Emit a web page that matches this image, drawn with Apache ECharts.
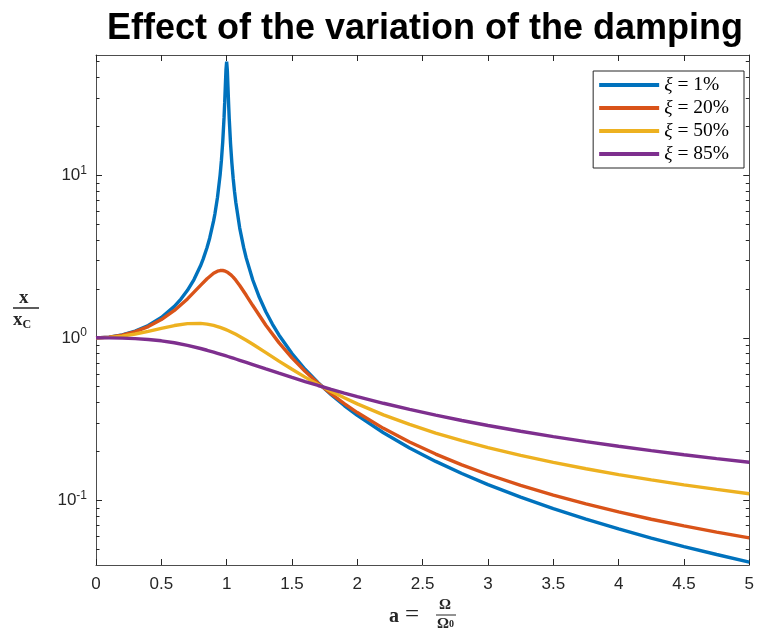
<!DOCTYPE html>
<html>
<head>
<meta charset="utf-8">
<script src="https://cdn.jsdelivr.net/npm/echarts@6.0.0/dist/echarts.min.js"></script>
<style>
  html, body { margin: 0; padding: 0; background: #fff; }
  #chart { width: 757px; height: 628px; }
</style>
</head>
<body>
<div id="chart"></div>
<script>
// frequency ratio a = Omega / Omega0
var aValues = [0, 0.1, 0.2, 0.3, 0.4, 0.5, 0.6, 0.7, 0.8, 0.85, 0.9, 0.93, 0.95, 0.97, 0.98, 0.99, 1,
  1.01, 1.02, 1.03, 1.05, 1.07, 1.1, 1.15, 1.2, 1.3, 1.4, 1.5, 1.6, 1.7, 1.8, 1.9, 2,
  2.2, 2.4, 2.6, 2.8, 3, 3.25, 3.5, 3.75, 4, 4.25, 4.5, 4.75, 5];
// the 1% curve is read at more points around the resonance
var aValues1 = [0, 0.1, 0.2, 0.3, 0.4, 0.5, 0.6, 0.65, 0.7, 0.75, 0.8, 0.82, 0.85, 0.87, 0.9, 0.91, 0.93, 0.95, 0.96, 0.97, 0.98, 0.985, 0.99, 0.995, 1,
  1.005, 1.01, 1.015, 1.02, 1.03, 1.04, 1.05, 1.06, 1.07, 1.1, 1.13, 1.15, 1.2, 1.25, 1.3, 1.35, 1.4, 1.5, 1.6, 1.7, 1.8, 1.9, 2,
  2.2, 2.4, 2.6, 2.8, 3, 3.25, 3.5, 3.75, 4, 4.25, 4.5, 4.75, 5];

// x / xC
var xi1 = [1, 1.0101, 1.0417, 1.0989, 1.1905, 1.3333, 1.5622, 1.7316, 1.9601, 2.2845, 2.7752, 3.0487, 3.5969, 4.103, 5.2399, 5.785, 7.3332, 10.068, 12.388, 16.078, 22.635, 28.006, 35.626, 44.91, 50.0,
  44.51, 35.095, 27.46, 22.098, 15.556, 11.874, 9.558, 7.974, 6.828, 4.736, 3.5994, 3.093, 2.2696, 1.776, 1.4483, 1.2158, 1.0412, 0.7999, 0.6409, 0.529, 0.4464, 0.3831, 0.3333,
  0.2604, 0.2101, 0.1736, 0.1462, 0.125, 0.1046, 0.0889, 0.0766, 0.0667, 0.0586, 0.0519, 0.0464, 0.0417];
var xi20 = [1, 1.0095, 1.0389, 1.0914, 1.1732, 1.2947, 1.4735, 1.7356, 2.1026, 2.3113, 2.4961, 2.57, 2.5946, 2.5954, 2.5864, 2.571, 2.5495,
  2.5221, 2.4893, 2.4515, 2.3635, 2.2632, 2.1002, 1.8265, 1.5794, 1.1959, 0.9344, 0.753, 0.6227, 0.5258, 0.4517, 0.3935, 0.3469,
  0.2773, 0.2284, 0.1926, 0.1654, 0.1442, 0.1236, 0.1077, 0.0951, 0.0849, 0.0765, 0.0696, 0.0637, 0.0587];
var xi50 = [1, 1.0063, 1.0249, 1.0553, 1.0961, 1.1435, 1.1901, 1.2233, 1.2277, 1.2152, 1.1922, 1.1735, 1.1593, 1.1437, 1.1354, 1.1269, 1.118,
  1.109, 1.0997, 1.0902, 1.0706, 1.0503, 1.0191, 0.9658, 0.9124, 0.8104, 0.7191, 0.6402, 0.5731, 0.5163, 0.4682, 0.4273, 0.3922,
  0.3359, 0.293, 0.2595, 0.2328, 0.211, 0.1889, 0.1711, 0.1564, 0.144, 0.1336, 0.1246, 0.1167, 0.1098];
var xi85 = [1, 0.9991, 0.996, 0.9893, 0.9773, 0.9585, 0.9322, 0.8988, 0.8596, 0.8384, 0.8166, 0.8033, 0.7944, 0.7855, 0.781, 0.7765, 0.772,
  0.7675, 0.7631, 0.7586, 0.7497, 0.7408, 0.7275, 0.7058, 0.6845, 0.6437, 0.6057, 0.5706, 0.5384, 0.5089, 0.482, 0.4574, 0.435,
  0.3956, 0.3624, 0.3341, 0.3098, 0.2887, 0.266, 0.2466, 0.2298, 0.2152, 0.2023, 0.1909, 0.1807, 0.1715];

var seriesNames = ['1%', '20%', '50%', '85%'];
var colors = ['#0072BD', '#D95319', '#EDB120', '#7E2F8E'];

var xTicks = [0, 0.5, 1, 1.5, 2, 2.5, 3, 3.5, 4, 4.5, 5];
var yMajor = [0.1, 1, 10];
var yMinor = [0.05, 0.06, 0.07, 0.08, 0.09, 0.2, 0.3, 0.4, 0.5, 0.6, 0.7, 0.8, 0.9,
  2, 3, 4, 5, 6, 7, 8, 9, 20, 30, 40, 50];

var axisColor = '#4d4d4d';
var textColor = '#262626';
var sansFont = '"Liberation Sans", Arial, sans-serif';
var serifFont = '"Liberation Serif", "DejaVu Serif", serif';

function pairs(xs, ys) {
  return xs.map(function (a, i) { return [a, ys[i]]; });
}

var chart = echarts.init(document.getElementById('chart'));

// one log axis per side and per tick kind (major / minor)
function yAxisSide(side, ticks, tickLen, withLine, withLabels) {
  return {
    type: 'log',
    logBase: 10,
    min: 0.04,
    max: 55,
    position: side,
    offset: 0,
    splitLine: { show: false },
    axisLine: { show: withLine, onZero: false, lineStyle: { color: axisColor, width: 1 } },
    axisTick: { inside: true, length: tickLen, customValues: ticks, lineStyle: { color: textColor } },
    axisLabel: withLabels ? {
      customValues: yMajor,
      margin: 9,
      color: textColor,
      fontFamily: sansFont,
      fontSize: 17,
      formatter: function (v) {
        var e = Math.round(Math.log10(v));
        return '{b|10}{e|' + e + '}';
      },
      rich: {
        b: { fontFamily: sansFont, fontSize: 17, color: textColor },
        e: { fontFamily: sansFont, fontSize: 12, color: textColor, verticalAlign: 'top', padding: [0, 0, 10, 0] }
      }
    } : { show: false }
  };
}

function xAxisSide(side, withLabels) {
  return {
    type: 'value',
    position: side,
    offset: 0,
    min: 0, max: 5, interval: 0.5,
    splitLine: { show: false },
    axisLine: { show: true, onZero: false, lineStyle: { color: axisColor, width: 1 } },
    axisTick: { inside: true, length: 6, customValues: xTicks, lineStyle: { color: textColor } },
    axisLabel: withLabels ? { color: textColor, fontFamily: sansFont, fontSize: 17, margin: 11 } : { show: false }
  };
}

var option = {
  animation: false,
  backgroundColor: '#fff',
  title: {
    text: 'Effect of the variation of the damping',
    left: 420,
    top: 6,
    textAlign: 'center',
    textStyle: { fontFamily: sansFont, fontWeight: 'bold', fontSize: 36, color: '#000' }
  },
  legend: {
    data: seriesNames,
    orient: 'vertical',
    right: 13,
    top: 71,
    padding: [4, 15, 4, 6],
    itemGap: 3,
    itemWidth: 60,
    itemHeight: 4,
    icon: 'rect',
    borderColor: textColor,
    borderWidth: 1,
    backgroundColor: '#fff',
    formatter: function (name) { return '{i|ξ} = ' + name; },
    textStyle: {
      fontFamily: serifFont, fontSize: 19.5, color: '#000', lineHeight: 20,
      rich: { i: { fontFamily: serifFont, fontStyle: 'italic', fontSize: 19.5, color: '#000' } }
    }
  },
  grid: { left: 96, right: 5, top: 55, bottom: 63, containLabel: false },
  xAxis: [xAxisSide('bottom', true), xAxisSide('top', false)],
  yAxis: [
    yAxisSide('left', yMajor, 6, true, true),
    yAxisSide('right', yMajor, 6, true, false),
    yAxisSide('left', yMinor, 3.5, false, false),
    yAxisSide('right', yMinor, 3.5, false, false)
  ],
  series: [[aValues1, xi1], [aValues, xi20], [aValues, xi50], [aValues, xi85]].map(function (s, i) {
    return {
      name: seriesNames[i],
      type: 'line',
      showSymbol: false,
      symbol: 'none',
      smooth: false,
      data: pairs(s[0], s[1]),
      color: colors[i],
      lineStyle: { width: 3.4, color: colors[i] },
      z: 2 + i
    };
  }),
  graphic: [
    // y label: x / xC
    { type: 'text', left: 19, top: 289, style: { text: 'x', font: 'bold 19px ' + serifFont, fill: textColor } },
    { type: 'line', shape: { x1: 13, y1: 308, x2: 39, y2: 308 }, style: { stroke: textColor, lineWidth: 1.5 } },
    {
      type: 'text', left: 13, top: 311,
      style: {
        text: 'x{s|C}',
        font: 'bold 19px ' + serifFont,
        fill: textColor,
        rich: { s: { font: 'bold 12px ' + serifFont, fill: textColor, padding: [8, 0, 0, 0] } }
      }
    },
    // x label: a = Omega / Omega0
    { type: 'text', left: 389, top: 607, style: { text: 'a', font: 'bold 20px ' + serifFont, fill: textColor } },
    { type: 'text', left: 405, top: 603, style: { text: '=', font: '25px ' + serifFont, fill: textColor } },
    { type: 'text', left: 439, top: 598, style: { text: 'Ω', font: 'bold 15px ' + serifFont, fill: textColor } },
    { type: 'line', shape: { x1: 436, y1: 615, x2: 456, y2: 615 }, style: { stroke: textColor, lineWidth: 1 } },
    {
      type: 'text', left: 437, top: 617,
      style: {
        text: 'Ω{s|0}',
        font: 'bold 15px ' + serifFont,
        fill: textColor,
        rich: { s: { font: 'bold 10px ' + serifFont, fill: textColor } }
      }
    }
  ]
};

chart.setOption(option);
</script>
</body>
</html>
